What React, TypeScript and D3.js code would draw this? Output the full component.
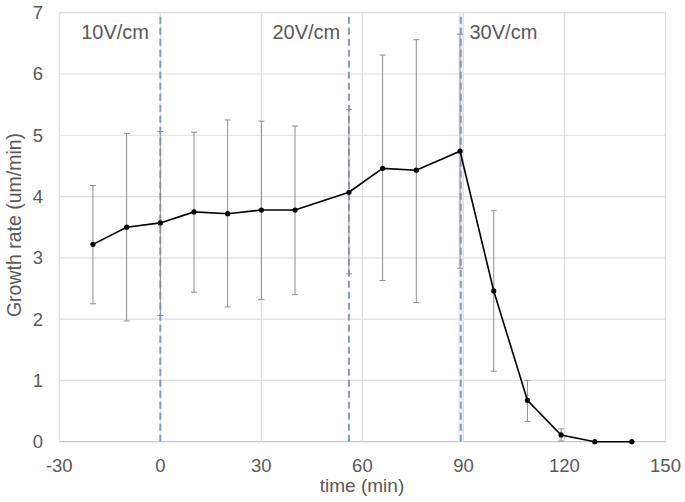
import React from "react";
import * as d3 from "d3";

const times = [-20, -10, 0, 10, 20, 30, 40, 56, 66, 76, 89, 99, 109, 119, 129, 140];
const rates = [3.22, 3.5, 3.57, 3.75, 3.72, 3.78, 3.78, 4.07, 4.46, 4.43, 4.74, 2.46, 0.675, 0.11, 0, 0];
const errHigh = [4.18, 5.03, 5.06, 5.05, 5.25, 5.23, 5.15, 5.42, 6.31, 6.56, 6.65, 3.77, 1.0, 0.21, 0, 0];
const errLow = [2.25, 1.97, 2.06, 2.44, 2.2, 2.32, 2.4, 2.74, 2.63, 2.27, 2.83, 1.15, 0.33, 0.01, 0, 0];
const xTicks = [-30, 0, 30, 60, 90, 120, 150];
const yTicks = [0, 1, 2, 3, 4, 5, 6, 7];
const fieldTimes = [0, 56, 89.2];
const fieldLabels = ["10V/cm", "20V/cm", "30V/cm"];
const labelTimes = [-23.5, 33.3, 91.8];

export default function App() {
  const W = 685, H = 502;
  const x = d3.scaleLinear().domain([-30, 150]).range([59.3, 665.5]);
  const y = d3.scaleLinear().domain([0, 7]).range([441.7, 12.7]);
  const line = d3.line<number>().x((_, i) => x(times[i])).y((d) => y(d));
  const font = "'Liberation Sans', Arial, sans-serif";
  const txt = "#595959";
  return (
    <svg width={W} height={H} style={{ position: "absolute", left: 0, top: 0, background: "#fff" }} fontFamily={font}>
      {yTicks.map((t) => (
        <line key={"gy" + t} x1={x(-30)} x2={x(150)} y1={y(t)} y2={y(t)} stroke={t === 0 ? "#c8c8c8" : "#dedede"} strokeWidth={1.2} />
      ))}
      {xTicks.map((t) => (
        <line key={"gx" + t} x1={x(t)} x2={x(t)} y1={y(0)} y2={y(7)} stroke="#dedede" strokeWidth={1.2} />
      ))}
      {fieldTimes.map((t, i) => (
        <g key={"f" + i}>
          {i === 2 && <line x1={x(t)} x2={x(t)} y1={y(0)} y2={y(7)} stroke="#e9eef7" strokeWidth={4.5} />}
          <line x1={x(t)} x2={x(t)} y1={y(0)} y2={y(7)} stroke="#809bc6" strokeWidth={2} strokeDasharray="7 4" />
        </g>
      ))}
      {times.map((t, i) => (
        <g key={"e" + i} stroke="#8f8f8f" strokeWidth={1}>
          <line x1={x(t)} x2={x(t)} y1={y(errHigh[i])} y2={y(errLow[i])} />
          <line x1={x(t) - 3} x2={x(t) + 3} y1={y(errHigh[i])} y2={y(errHigh[i])} />
          <line x1={x(t) - 3} x2={x(t) + 3} y1={y(errLow[i])} y2={y(errLow[i])} />
        </g>
      ))}
      <path d={line(rates) || ""} fill="none" stroke="#000" strokeWidth={1.6} />
      {times.map((t, i) => (
        <circle key={"p" + i} cx={x(t)} cy={y(rates[i])} r={2.6} fill="#000" />
      ))}
      {yTicks.map((t) => (
        <text key={"ty" + t} x={43} y={y(t)} dy="0.35em" textAnchor="end" fontSize={18.5} fill={txt}>{t}</text>
      ))}
      {xTicks.map((t) => (
        <text key={"tx" + t} x={x(t)} y={471.5} textAnchor="middle" fontSize={18.5} fill={txt}>{t}</text>
      ))}
      {fieldLabels.map((l, i) => (
        <text key={"l" + i} x={x(labelTimes[i])} y={39} fontSize={20} fill={txt}>{l}</text>
      ))}
      <text x={362} y={492} textAnchor="middle" fontSize={19} fill={txt}>time (min)</text>
      <text transform="translate(21,225) rotate(-90)" textAnchor="middle" fontSize={19.5} fill={txt}>Growth rate (um/min)</text>
    </svg>
  );
}
